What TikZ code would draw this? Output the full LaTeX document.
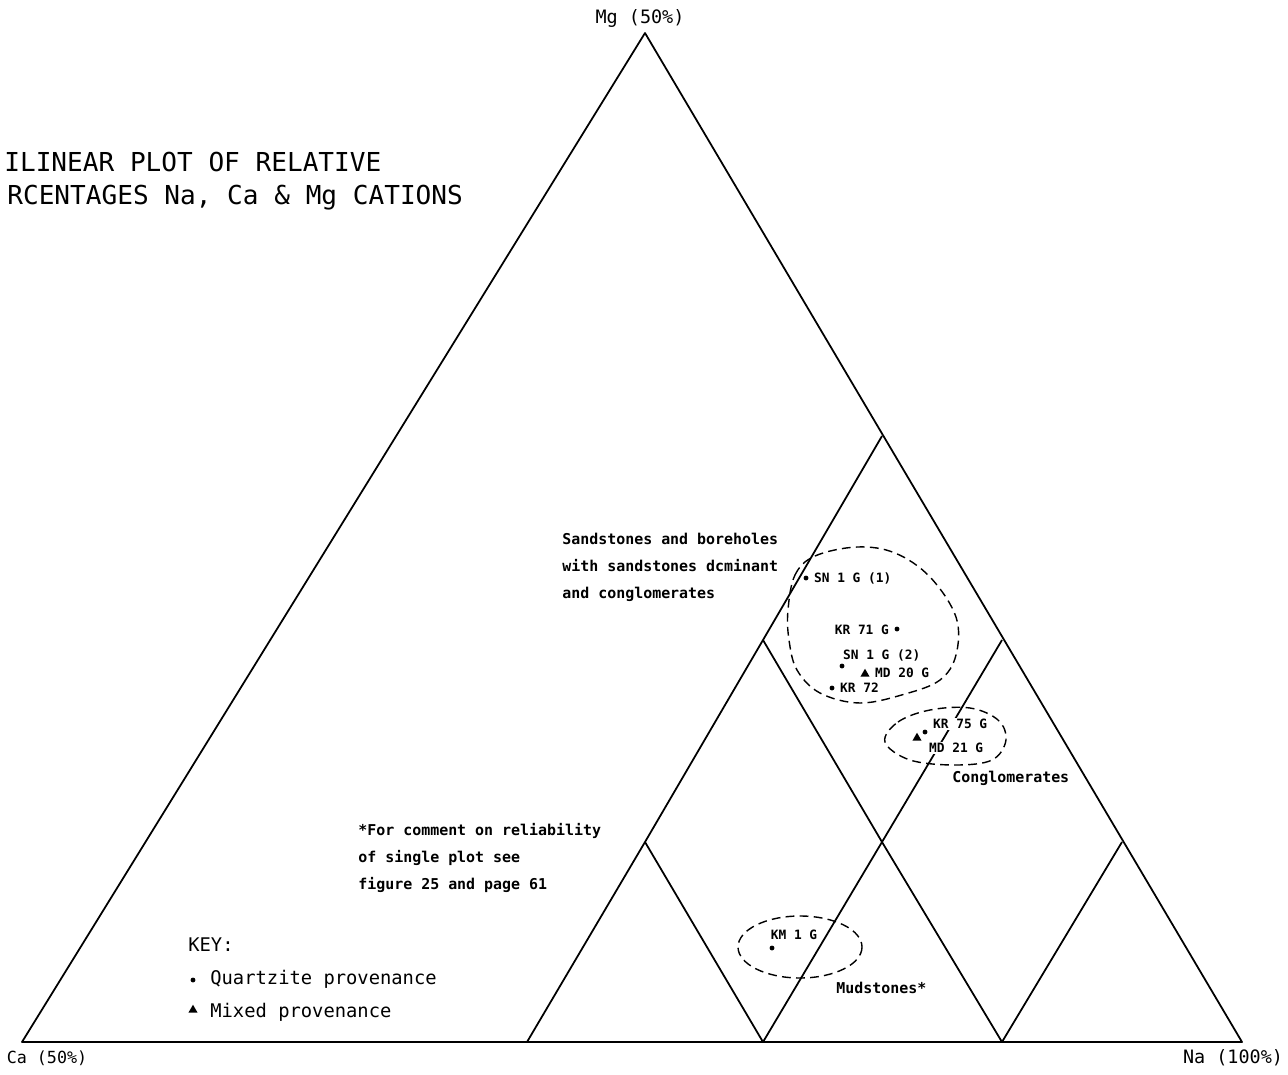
\documentclass[tikz,border=0pt]{standalone}
\usepackage{fontspec}
\setmonofont{DejaVu Sans Mono}
\usetikzlibrary{shapes.geometric}

\begin{document}
\begin{tikzpicture}[x=0.02cm, y=-0.02cm,
        sample/.style={circle, fill=black, inner sep=0pt, minimum size=2.8pt},
        mixed/.style={regular polygon, regular polygon sides=3, fill=black, inner sep=0pt, minimum size=6pt},
        datalabel/.style={font=\ttfamily\bfseries\fontsize{7.3}{8}\selectfont, inner xsep=1pt, inner ysep=0.3pt, text height=5.4pt, text depth=0.6pt, fill=white},
        caption/.style={font=\ttfamily\bfseries\fontsize{8.5}{15.4}\selectfont, align=left, inner sep=0pt},
        corner/.style={font=\ttfamily\fontsize{10.5}{12}\selectfont, inner sep=0pt},
        keytext/.style={font=\ttfamily\fontsize{10.7}{12}\selectfont, inner sep=0pt, anchor=west},
        region/.style={dash pattern=on 5pt off 3pt, line width=0.8pt}]

        \useasboundingbox (0,0) rectangle (1288,1075);

        % Corners of the trilinear plot and the points of its subdivision
        \coordinate (mg) at (645,33);
        \coordinate (ca) at (22,1042);
        \coordinate (na) at (1242,1042);
        \coordinate (r4) at (882,436);
        \coordinate (r6) at (1002,640);
        \coordinate (r8) at (1122,842);
        \coordinate (i1) at (763,640);
        \coordinate (i2) at (645,842);
        \coordinate (i3) at (882,842);
        \coordinate (b1) at (527,1042);
        \coordinate (b2) at (763,1042);
        \coordinate (b3) at (1002,1042);

        % Draw the triangle and the inner fields
        \draw[line width=1pt, line join=round] (ca) -- (mg) -- (na) -- cycle;
        \draw[line width=1pt] (r4) -- (i1) -- (i2) -- (b1);
        \draw[line width=1pt] (r6) -- (i3) -- (b2);
        \draw[line width=1pt] (r8) -- (b3);
        \draw[line width=1pt] (i1) -- (i3) -- (b3);
        \draw[line width=1pt] (i2) -- (b2);

        % Corner labels
        \node[corner] (mg-lab) at (640,18) {Mg (50\%)};
        \node[corner, font=\ttfamily\fontsize{9.5}{12}\selectfont] (ca-lab) at (47,1058) {Ca (50\%)};
        \node[corner] (na-lab) at (1233,1058) {Na (100\%)};

        % Title (cut at the left edge)
        \node[font=\ttfamily\fontsize{14.85}{18}\selectfont, inner sep=0pt, anchor=base west] (title1) at (4,171) {ILINEAR PLOT OF RELATIVE};
        \node[font=\ttfamily\fontsize{14.85}{18}\selectfont, inner sep=0pt, anchor=base west] (title2) at (7,204) {RCENTAGES Na, Ca \& Mg CATIONS};

        % Dashed fields round the groups of samples
        \draw[region] plot[smooth cycle, tension=0.6] coordinates {(788,610) (795,575) (815,556) (857,547) (895,553) (930,577) (956,617) (956,655) (940,680) (905,694) (860,703) (820,693) (797,670) (789,640)};
        \draw[region] plot[smooth cycle, tension=0.6] coordinates {(885,742) (898,722) (930,710) (970,708) (998,720) (1006,740) (992,760) (955,765) (910,760)};
        \draw[region] (800,947) ellipse [x radius=62, y radius=31];

        % Sandstones
        \node[datalabel, anchor=west] (sn1a-lab) at (812,578) {SN 1 G (1)};
        \node[datalabel, anchor=east] (kr71-lab) at (891,630) {KR 71 G};
        \node[datalabel, anchor=west] (sn1b-lab) at (841,655) {SN 1 G (2)};
        \node[datalabel, anchor=west] (md20-lab) at (873,673) {MD 20 G};
        \node[datalabel, anchor=west] (kr72-lab) at (838,688) {KR 72};
        \node[sample] (sn1a) at (806,578) {};
        \node[sample] (kr71) at (897,629) {};
        \node[sample] (sn1b) at (842,666) {};
        \node[mixed] (md20) at (865,674) {};
        \node[sample] (kr72) at (832,688) {};

        % Conglomerates
        \node[datalabel, anchor=west] (kr75-lab) at (931,724) {KR 75 G};
        \node[datalabel, anchor=west] (md21-lab) at (927,748) {MD 21 G};
        \node[sample] (kr75) at (925,732) {};
        \node[mixed] (md21) at (917,738) {};

        % Mudstones
        \node[datalabel] (km1-lab) at (794,935) {KM 1 G};
        \node[sample] (km1) at (772,948) {};

        % Captions
        \node[caption, anchor=north west] (sand-cap) at (562,533) {Sandstones and boreholes\\with sandstones dcminant\\and conglomerates};
        \node[caption, anchor=west] (cong-cap) at (952,778) {Conglomerates};
        \node[caption, anchor=west] (mud-cap) at (836,988) {Mudstones*};
        \node[caption, anchor=north west] (note-cap) at (358,823) {*For comment on reliability\\of single plot see\\figure 25 and page 61};

        % Key
        \node[keytext] (key) at (188,945) {KEY:};
        \node[sample] (key-q) at (193,980) {};
        \node[keytext] (key-q-lab) at (210,979) {Quartzite provenance};
        \node[mixed] (key-m) at (193,1010) {};
        \node[keytext] (key-m-lab) at (210,1012) {Mixed provenance};
    \end{tikzpicture}
\end{document}
